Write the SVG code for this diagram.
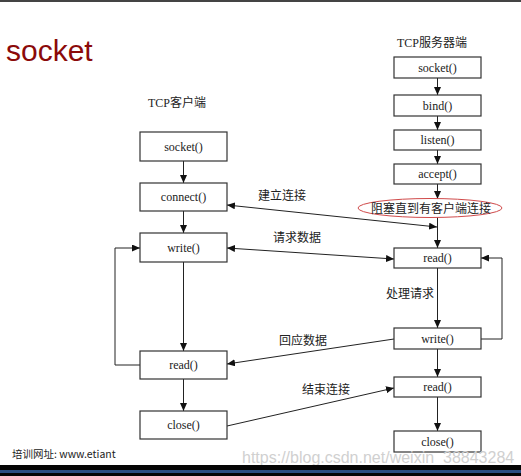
<svg xmlns="http://www.w3.org/2000/svg" width="521" height="476" viewBox="0 0 521 476">
<style>
.box{fill:#fff;stroke:#333;stroke-width:1.2}
.lbl{font-family:"Liberation Serif","Noto Sans CJK SC",serif;font-size:12px;fill:#222;text-anchor:middle}
.cn{font-family:"Noto Sans CJK SC","Liberation Sans",sans-serif;font-size:12px;fill:#222}
.ttl{font-family:"Liberation Serif","Noto Sans CJK SC",serif;font-size:12px;fill:#222}
.ln{fill:none;stroke:#222;stroke-width:1}
</style>
<defs>
<marker id="arr" markerUnits="userSpaceOnUse" markerWidth="8" markerHeight="7" refX="8" refY="3.5" orient="auto-start-reverse">
<path d="M0,0 L8,3.5 L0,7 z" fill="#111"/>
</marker>
</defs>
<rect x="0" y="0" width="521" height="476" fill="#fff"/>
<rect x="0" y="0" width="521" height="2" fill="#444"/>
<text x="6" y="61" font-family="Liberation Sans,Arial,sans-serif" font-size="30" fill="#8b0a0a">socket</text>
<text class="ttl" x="148" y="107">TCP客户端</text>
<text class="ttl" x="397" y="47">TCP服务器端</text>

<g id="connectors">
<path class="ln" d="M183.5,161 V183" marker-end="url(#arr)"/>
<path class="ln" d="M183.5,211 V233" marker-end="url(#arr)"/>
<path class="ln" d="M183.5,262 V351" marker-end="url(#arr)"/>
<path class="ln" d="M183.5,379 V411" marker-end="url(#arr)"/>
<path class="ln" d="M140,365 H115 V248 H140" marker-end="url(#arr)"/>
<path class="ln" d="M437.5,78 V95" marker-end="url(#arr)"/>
<path class="ln" d="M437.5,116 V130" marker-end="url(#arr)"/>
<path class="ln" d="M437.5,150 V164" marker-end="url(#arr)"/>
<path class="ln" d="M437.5,184 V199" marker-end="url(#arr)"/>
<path class="ln" d="M437.5,217 V248" marker-end="url(#arr)"/>
<path class="ln" d="M437.5,268 V328" marker-end="url(#arr)"/>
<path class="ln" d="M437.5,349 V377" marker-end="url(#arr)"/>
<path class="ln" d="M437.5,397 V431" marker-end="url(#arr)"/>
<path class="ln" d="M481,339 H502 V258 H481" marker-end="url(#arr)"/>
<path class="ln" d="M227,205 L437,227" marker-start="url(#arr)" marker-end="url(#arr)"/>
<path class="ln" d="M227,248 L394,259" marker-start="url(#arr)" marker-end="url(#arr)"/>
<path class="ln" d="M394,339 L227,364" marker-end="url(#arr)"/>
<path class="ln" d="M227,426 L394,388" marker-end="url(#arr)"/>
<text class="cn" x="258" y="200">建立连接</text>
<text class="cn" x="273" y="242">请求数据</text>
<text class="cn" x="386" y="298">处理请求</text>
<text class="cn" x="279" y="345">回应数据</text>
<text class="cn" x="302" y="394">结束连接</text>
</g>

<g id="c-socket"><rect class="box" x="140" y="132" width="87" height="29"/><text class="lbl" x="183.5" y="150.5">socket()</text></g>
<g id="c-connect"><rect class="box" x="140" y="183" width="87" height="28"/><text class="lbl" x="183.5" y="201">connect()</text></g>
<g id="c-write"><rect class="box" x="140" y="233" width="87" height="29"/><text class="lbl" x="183.5" y="251.5">write()</text></g>
<g id="c-read"><rect class="box" x="140" y="351" width="87" height="28"/><text class="lbl" x="183.5" y="369">read()</text></g>
<g id="c-close"><rect class="box" x="140" y="411" width="87" height="28"/><text class="lbl" x="183.5" y="429">close()</text></g>

<g id="s-socket"><rect class="box" x="394" y="57" width="87" height="21"/><text class="lbl" x="437.5" y="71.5">socket()</text></g>
<g id="s-bind"><rect class="box" x="394" y="95" width="87" height="21"/><text class="lbl" x="437.5" y="109.5">bind()</text></g>
<g id="s-listen"><rect class="box" x="394" y="130" width="87" height="20"/><text class="lbl" x="437.5" y="144">listen()</text></g>
<g id="s-accept"><rect class="box" x="394" y="164" width="87" height="20"/><text class="lbl" x="437.5" y="178">accept()</text></g>
<g id="s-block"><ellipse cx="430" cy="208" rx="72" ry="9.5" fill="#fff" stroke="#d04a4a" stroke-width="1"/><text class="cn" x="431" y="212.5" text-anchor="middle" font-size="12.7">阻塞直到有客户端连接</text></g>
<g id="s-read"><rect class="box" x="394" y="248" width="87" height="20"/><text class="lbl" x="437.5" y="262">read()</text></g>
<g id="s-write"><rect class="box" x="394" y="328" width="87" height="21"/><text class="lbl" x="437.5" y="342.5">write()</text></g>
<g id="s-read2"><rect class="box" x="394" y="377" width="87" height="20"/><text class="lbl" x="437.5" y="391">read()</text></g>
<g id="s-close"><rect class="box" x="394" y="431" width="87" height="21"/><text class="lbl" x="437.5" y="445.5">close()</text></g>

<text x="12" y="458" font-family="Noto Sans CJK SC,Liberation Sans,sans-serif" font-size="10.5" fill="#222">培训网址: www.etiant</text>
<text x="242" y="463" font-family="Liberation Sans,Arial,sans-serif" font-size="16" fill="#d0d0d0">https://blog.csdn.net/weixin_38843284</text>
<rect x="0" y="465" width="521" height="11" fill="#050505"/>
<rect x="0" y="470" width="521" height="3" fill="#2b4d80"/>
</svg>
